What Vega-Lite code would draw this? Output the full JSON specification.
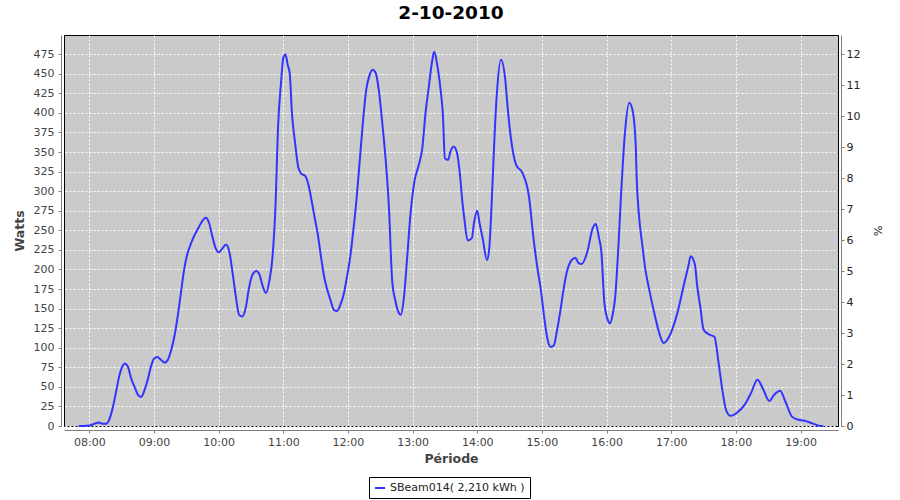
{
  "$schema": "https://vega.github.io/schema/vega-lite/v6.json",
  "width": 774,
  "height": 391,
  "autosize": {"type": "none"},
  "padding": {"left": 64, "top": 35, "right": 62, "bottom": 74},
  "background": "white",
  "config": {
    "view": {"fill": "#CACACA", "stroke": "black", "strokeWidth": 1},
    "font": "DejaVu Sans",
    "axis": {
      "domainColor": "#808080",
      "tickColor": "#808080",
      "tickSize": 3,
      "labelColor": "#444444",
      "labelFontSize": 11,
      "titleColor": "#444444",
      "titleFontSize": 12.5,
      "titleFontWeight": "bold",
      "offset": 3,
      "gridColor": "white",
      "gridDash": [2, 2],
      "gridWidth": 1,
      "gridOpacity": 1
    }
  },
  "title": {"text": "2-10-2010", "fontSize": 18.5, "fontWeight": "bold", "color": "black", "offset": 10},
  "layer": [
    {
      "data": {"values": [
        {"time": "2010-10-02T07:50:00", "watts": 0},
        {"time": "2010-10-02T07:55:00", "watts": 0},
        {"time": "2010-10-02T08:00:00", "watts": 0.5},
        {"time": "2010-10-02T08:05:00", "watts": 3},
        {"time": "2010-10-02T08:09:00", "watts": 4.5},
        {"time": "2010-10-02T08:12:00", "watts": 3},
        {"time": "2010-10-02T08:16:00", "watts": 3},
        {"time": "2010-10-02T08:19:00", "watts": 10},
        {"time": "2010-10-02T08:22:00", "watts": 25},
        {"time": "2010-10-02T08:25:00", "watts": 45},
        {"time": "2010-10-02T08:28:00", "watts": 65},
        {"time": "2010-10-02T08:31:00", "watts": 77},
        {"time": "2010-10-02T08:33:00", "watts": 80},
        {"time": "2010-10-02T08:36:00", "watts": 75},
        {"time": "2010-10-02T08:39:00", "watts": 60},
        {"time": "2010-10-02T08:42:00", "watts": 50},
        {"time": "2010-10-02T08:45:00", "watts": 40},
        {"time": "2010-10-02T08:48:00", "watts": 37},
        {"time": "2010-10-02T08:51:00", "watts": 45},
        {"time": "2010-10-02T08:54:00", "watts": 58},
        {"time": "2010-10-02T08:57:00", "watts": 75},
        {"time": "2010-10-02T09:00:00", "watts": 86},
        {"time": "2010-10-02T09:03:00", "watts": 88},
        {"time": "2010-10-02T09:07:00", "watts": 84},
        {"time": "2010-10-02T09:10:00", "watts": 81},
        {"time": "2010-10-02T09:13:00", "watts": 85},
        {"time": "2010-10-02T09:16:00", "watts": 97},
        {"time": "2010-10-02T09:19:00", "watts": 115},
        {"time": "2010-10-02T09:22:00", "watts": 140},
        {"time": "2010-10-02T09:25:00", "watts": 170},
        {"time": "2010-10-02T09:28:00", "watts": 200},
        {"time": "2010-10-02T09:31:00", "watts": 220},
        {"time": "2010-10-02T09:34:00", "watts": 232},
        {"time": "2010-10-02T09:37:00", "watts": 242},
        {"time": "2010-10-02T09:40:00", "watts": 250},
        {"time": "2010-10-02T09:44:00", "watts": 260},
        {"time": "2010-10-02T09:48:00", "watts": 266},
        {"time": "2010-10-02T09:51:00", "watts": 260},
        {"time": "2010-10-02T09:54:00", "watts": 243},
        {"time": "2010-10-02T09:57:00", "watts": 228},
        {"time": "2010-10-02T10:00:00", "watts": 222},
        {"time": "2010-10-02T10:03:00", "watts": 226},
        {"time": "2010-10-02T10:07:00", "watts": 232},
        {"time": "2010-10-02T10:10:00", "watts": 222},
        {"time": "2010-10-02T10:13:00", "watts": 195},
        {"time": "2010-10-02T10:16:00", "watts": 165},
        {"time": "2010-10-02T10:19:00", "watts": 142},
        {"time": "2010-10-02T10:22:00", "watts": 140},
        {"time": "2010-10-02T10:25:00", "watts": 150},
        {"time": "2010-10-02T10:28:00", "watts": 175},
        {"time": "2010-10-02T10:31:00", "watts": 192},
        {"time": "2010-10-02T10:35:00", "watts": 198},
        {"time": "2010-10-02T10:38:00", "watts": 193},
        {"time": "2010-10-02T10:41:00", "watts": 178},
        {"time": "2010-10-02T10:44:00", "watts": 170},
        {"time": "2010-10-02T10:47:00", "watts": 185},
        {"time": "2010-10-02T10:50:00", "watts": 216},
        {"time": "2010-10-02T10:53:00", "watts": 290},
        {"time": "2010-10-02T10:55:00", "watts": 378},
        {"time": "2010-10-02T10:58:00", "watts": 440},
        {"time": "2010-10-02T11:00:00", "watts": 470},
        {"time": "2010-10-02T11:02:00", "watts": 475},
        {"time": "2010-10-02T11:04:00", "watts": 462},
        {"time": "2010-10-02T11:06:00", "watts": 450},
        {"time": "2010-10-02T11:08:00", "watts": 400},
        {"time": "2010-10-02T11:11:00", "watts": 361},
        {"time": "2010-10-02T11:14:00", "watts": 330},
        {"time": "2010-10-02T11:17:00", "watts": 322},
        {"time": "2010-10-02T11:20:00", "watts": 320},
        {"time": "2010-10-02T11:23:00", "watts": 310},
        {"time": "2010-10-02T11:26:00", "watts": 290},
        {"time": "2010-10-02T11:29:00", "watts": 267},
        {"time": "2010-10-02T11:32:00", "watts": 245},
        {"time": "2010-10-02T11:35:00", "watts": 216},
        {"time": "2010-10-02T11:38:00", "watts": 190},
        {"time": "2010-10-02T11:41:00", "watts": 173},
        {"time": "2010-10-02T11:44:00", "watts": 160},
        {"time": "2010-10-02T11:47:00", "watts": 148},
        {"time": "2010-10-02T11:50:00", "watts": 147},
        {"time": "2010-10-02T11:53:00", "watts": 155},
        {"time": "2010-10-02T11:56:00", "watts": 168},
        {"time": "2010-10-02T11:59:00", "watts": 190},
        {"time": "2010-10-02T12:02:00", "watts": 215},
        {"time": "2010-10-02T12:05:00", "watts": 250},
        {"time": "2010-10-02T12:08:00", "watts": 290},
        {"time": "2010-10-02T12:11:00", "watts": 340},
        {"time": "2010-10-02T12:14:00", "watts": 390},
        {"time": "2010-10-02T12:17:00", "watts": 430},
        {"time": "2010-10-02T12:20:00", "watts": 448},
        {"time": "2010-10-02T12:23:00", "watts": 455},
        {"time": "2010-10-02T12:26:00", "watts": 450},
        {"time": "2010-10-02T12:29:00", "watts": 425},
        {"time": "2010-10-02T12:32:00", "watts": 385},
        {"time": "2010-10-02T12:35:00", "watts": 340},
        {"time": "2010-10-02T12:38:00", "watts": 280},
        {"time": "2010-10-02T12:41:00", "watts": 186},
        {"time": "2010-10-02T12:44:00", "watts": 160},
        {"time": "2010-10-02T12:47:00", "watts": 145},
        {"time": "2010-10-02T12:49:00", "watts": 142},
        {"time": "2010-10-02T12:52:00", "watts": 165},
        {"time": "2010-10-02T12:55:00", "watts": 216},
        {"time": "2010-10-02T12:58:00", "watts": 270},
        {"time": "2010-10-02T13:02:00", "watts": 315},
        {"time": "2010-10-02T13:05:00", "watts": 330},
        {"time": "2010-10-02T13:09:00", "watts": 355},
        {"time": "2010-10-02T13:12:00", "watts": 400},
        {"time": "2010-10-02T13:15:00", "watts": 433},
        {"time": "2010-10-02T13:18:00", "watts": 465},
        {"time": "2010-10-02T13:20:00", "watts": 478},
        {"time": "2010-10-02T13:23:00", "watts": 460},
        {"time": "2010-10-02T13:26:00", "watts": 429},
        {"time": "2010-10-02T13:28:00", "watts": 400},
        {"time": "2010-10-02T13:30:00", "watts": 342},
        {"time": "2010-10-02T13:33:00", "watts": 340},
        {"time": "2010-10-02T13:35:00", "watts": 350},
        {"time": "2010-10-02T13:38:00", "watts": 357},
        {"time": "2010-10-02T13:41:00", "watts": 350},
        {"time": "2010-10-02T13:44:00", "watts": 320},
        {"time": "2010-10-02T13:46:00", "watts": 289},
        {"time": "2010-10-02T13:48:00", "watts": 265},
        {"time": "2010-10-02T13:51:00", "watts": 237},
        {"time": "2010-10-02T13:55:00", "watts": 240},
        {"time": "2010-10-02T13:57:00", "watts": 260},
        {"time": "2010-10-02T14:00:00", "watts": 275},
        {"time": "2010-10-02T14:02:00", "watts": 260},
        {"time": "2010-10-02T14:05:00", "watts": 240},
        {"time": "2010-10-02T14:09:00", "watts": 212},
        {"time": "2010-10-02T14:11:00", "watts": 225},
        {"time": "2010-10-02T14:14:00", "watts": 305},
        {"time": "2010-10-02T14:16:00", "watts": 370},
        {"time": "2010-10-02T14:18:00", "watts": 421},
        {"time": "2010-10-02T14:22:00", "watts": 468},
        {"time": "2010-10-02T14:26:00", "watts": 442},
        {"time": "2010-10-02T14:28:00", "watts": 410},
        {"time": "2010-10-02T14:31:00", "watts": 370},
        {"time": "2010-10-02T14:36:00", "watts": 334},
        {"time": "2010-10-02T14:42:00", "watts": 323},
        {"time": "2010-10-02T14:48:00", "watts": 293},
        {"time": "2010-10-02T14:52:00", "watts": 242},
        {"time": "2010-10-02T14:56:00", "watts": 200},
        {"time": "2010-10-02T14:59:00", "watts": 174},
        {"time": "2010-10-02T15:02:00", "watts": 140},
        {"time": "2010-10-02T15:05:00", "watts": 112},
        {"time": "2010-10-02T15:08:00", "watts": 101},
        {"time": "2010-10-02T15:11:00", "watts": 103},
        {"time": "2010-10-02T15:14:00", "watts": 122},
        {"time": "2010-10-02T15:17:00", "watts": 146},
        {"time": "2010-10-02T15:20:00", "watts": 174},
        {"time": "2010-10-02T15:23:00", "watts": 196},
        {"time": "2010-10-02T15:27:00", "watts": 211},
        {"time": "2010-10-02T15:31:00", "watts": 215},
        {"time": "2010-10-02T15:34:00", "watts": 208},
        {"time": "2010-10-02T15:37:00", "watts": 207},
        {"time": "2010-10-02T15:42:00", "watts": 222},
        {"time": "2010-10-02T15:47:00", "watts": 252},
        {"time": "2010-10-02T15:50:00", "watts": 258},
        {"time": "2010-10-02T15:53:00", "watts": 240},
        {"time": "2010-10-02T15:55:00", "watts": 225},
        {"time": "2010-10-02T15:58:00", "watts": 157},
        {"time": "2010-10-02T16:01:00", "watts": 136},
        {"time": "2010-10-02T16:03:00", "watts": 131},
        {"time": "2010-10-02T16:06:00", "watts": 145},
        {"time": "2010-10-02T16:08:00", "watts": 165},
        {"time": "2010-10-02T16:11:00", "watts": 230},
        {"time": "2010-10-02T16:13:00", "watts": 284},
        {"time": "2010-10-02T16:17:00", "watts": 374},
        {"time": "2010-10-02T16:21:00", "watts": 413},
        {"time": "2010-10-02T16:24:00", "watts": 404},
        {"time": "2010-10-02T16:27:00", "watts": 360},
        {"time": "2010-10-02T16:28:00", "watts": 314},
        {"time": "2010-10-02T16:30:00", "watts": 270},
        {"time": "2010-10-02T16:33:00", "watts": 233},
        {"time": "2010-10-02T16:36:00", "watts": 200},
        {"time": "2010-10-02T16:39:00", "watts": 178},
        {"time": "2010-10-02T16:45:00", "watts": 140},
        {"time": "2010-10-02T16:49:00", "watts": 118},
        {"time": "2010-10-02T16:53:00", "watts": 106},
        {"time": "2010-10-02T16:58:00", "watts": 114},
        {"time": "2010-10-02T17:06:00", "watts": 146},
        {"time": "2010-10-02T17:12:00", "watts": 182},
        {"time": "2010-10-02T17:16:00", "watts": 205},
        {"time": "2010-10-02T17:18:00", "watts": 217},
        {"time": "2010-10-02T17:22:00", "watts": 206},
        {"time": "2010-10-02T17:24:00", "watts": 180},
        {"time": "2010-10-02T17:27:00", "watts": 152},
        {"time": "2010-10-02T17:30:00", "watts": 123},
        {"time": "2010-10-02T17:35:00", "watts": 117},
        {"time": "2010-10-02T17:40:00", "watts": 114},
        {"time": "2010-10-02T17:44:00", "watts": 80},
        {"time": "2010-10-02T17:47:00", "watts": 50},
        {"time": "2010-10-02T17:51:00", "watts": 20},
        {"time": "2010-10-02T17:55:00", "watts": 13},
        {"time": "2010-10-02T18:01:00", "watts": 17},
        {"time": "2010-10-02T18:08:00", "watts": 27},
        {"time": "2010-10-02T18:14:00", "watts": 42},
        {"time": "2010-10-02T18:20:00", "watts": 59},
        {"time": "2010-10-02T18:25:00", "watts": 48},
        {"time": "2010-10-02T18:31:00", "watts": 32},
        {"time": "2010-10-02T18:35:00", "watts": 39},
        {"time": "2010-10-02T18:41:00", "watts": 45},
        {"time": "2010-10-02T18:46:00", "watts": 31},
        {"time": "2010-10-02T18:52:00", "watts": 12},
        {"time": "2010-10-02T18:58:00", "watts": 8},
        {"time": "2010-10-02T19:03:00", "watts": 7},
        {"time": "2010-10-02T19:11:00", "watts": 3.4},
        {"time": "2010-10-02T19:19:00", "watts": 0},
        {"time": "2010-10-02T19:21:00", "watts": 0}
      ]},
      "mark": {"type": "line", "strokeWidth": 2, "interpolate": "monotone"},
      "encoding": {
        "x": {
          "field": "time",
          "type": "temporal",
          "scale": {"domain": ["2010-10-02T07:36:30", "2010-10-02T19:34:45"]},
          "axis": {
            "title": "Période",
            "format": "%H:%M",
            "tickCount": 12,
            "labelFlush": false,
            "labelPadding": 3,
            "titlePadding": 5,
            "offset": 4
          }
        },
        "y": {
          "field": "watts",
          "type": "quantitative",
          "scale": {"domain": [0, 499.5], "nice": false},
          "axis": {
            "title": "Watts",
            "values": [0, 25, 50, 75, 100, 125, 150, 175, 200, 225, 250, 275, 300, 325, 350, 375, 400, 425, 450, 475],
            "labelPadding": 4,
            "titlePadding": 7
          }
        },
        "color": {
          "datum": "SBeam014( 2,210 kWh )",
          "type": "nominal",
          "scale": {"range": ["#3333FF"]},
          "legend": {
            "title": null,
            "orient": "none",
            "legendX": 305,
            "legendY": 442,
            "strokeColor": "black",
            "padding": 5,
            "symbolType": "stroke",
            "symbolStrokeWidth": 2,
            "labelFontSize": 11,
            "labelColor": "#222222"
          }
        }
      }
    },
    {
      "data": {"values": [{"pct": 0}, {"pct": 12.619}]},
      "mark": {"type": "point", "opacity": 0},
      "encoding": {
        "y": {
          "field": "pct",
          "type": "quantitative",
          "scale": {"domain": [0, 12.619], "nice": false},
          "axis": {
            "orient": "right",
            "title": "%",
            "titleFontWeight": "normal",
            "titleFontSize": 11,
            "titleColor": "#222222",
            "values": [0, 1, 2, 3, 4, 5, 6, 7, 8, 9, 10, 11, 12],
            "labelColor": "#222222",
            "grid": false,
            "offset": 3,
            "titlePadding": 12
          }
        }
      }
    }
  ],
  "resolve": {"scale": {"y": "independent"}}
}
